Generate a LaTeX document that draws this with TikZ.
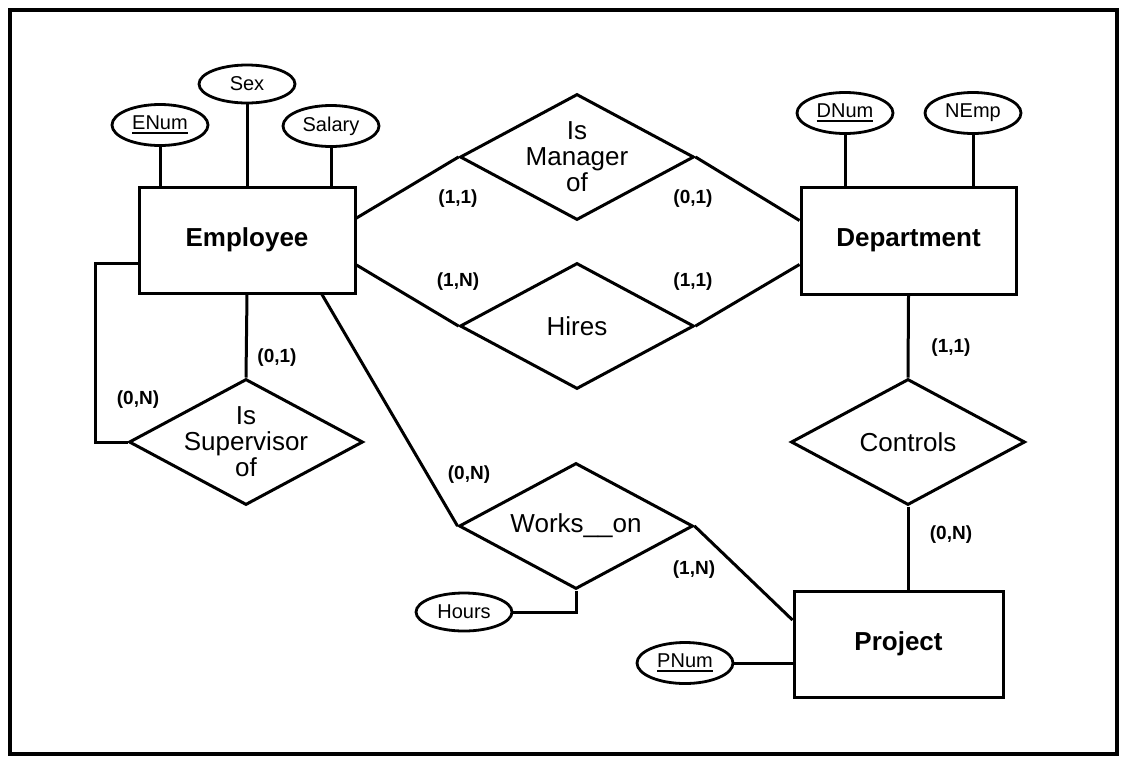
\documentclass[tikz,border=0pt]{standalone}
\usepackage{fontspec}
\setmainfont{Liberation Sans}
\usetikzlibrary{shapes.geometric}
\newcommand\pkey[1]{\setbox0=\hbox{#1}\vtop{\copy0\kern1.8pt\hrule height2pt}}
\begin{document}
\begin{tikzpicture}[x=1pt,y=-1pt,
  ent/.style={draw, line width=3pt, inner sep=0pt, font=\fontsize{26}{27}\selectfont\bfseries},
  attr/.style={draw, ellipse, line width=2.8pt, minimum width=96pt, minimum height=41pt, inner sep=0pt, font=\fontsize{20}{21}\selectfont},
  rel/.style={draw, diamond, line width=3pt, minimum width=234pt, minimum height=126pt, inner sep=0pt},
  reltext/.style={align=center, inner sep=0pt, font=\fontsize{26}{26}\selectfont},
  card/.style={inner sep=0pt, font=\fontsize{19}{20}\selectfont\bfseries},
  conn/.style={line width=3pt}]
\useasboundingbox (0,0) rectangle (1121,756);
\draw[line width=4.5pt] (10,10) rectangle (1117,754);

% entities
\node[ent, minimum width=216pt, minimum height=106pt] (emp) at (247,240) {Employee};
\node[ent, minimum width=215pt, minimum height=107pt] (dep) at (908.5,240.5) {Department};
\node[ent, minimum width=209pt, minimum height=106pt] (prj) at (898.5,644) {Project};

% attributes
\node[attr] (enum) at (160,125) {\pkey{ENum}};
\node[attr, minimum height=38pt] (sex) at (247,84) {Sex};
\node[attr] (sal) at (331,126) {Salary};
\node[attr] (dnum) at (845,113) {\pkey{DNum}};
\node[attr] (nemp) at (973,113) {NEmp};
\node[attr, minimum height=38pt] (hrs) at (464,612) {Hours};
\node[attr] (pnum) at (685,663) {\pkey{PNum}};

% relationships
\node[rel] (man) at (577,157) {};
\node[reltext] at (man) {Is\\Manager\\of};
\node[rel] (hir) at (577,326) {};
\node[reltext] at (hir) {Hires};
\node[rel] (sup) at (246,442) {};
\node[reltext] at (sup) {Is\\Supervisor\\of};
\node[rel] (wrk) at (576,526) {};
\node[reltext] at (wrk) {Works\_\_on};
\node[rel] (ctl) at (908,442) {};
\node[reltext] at (ctl) {Controls};

% attribute links
\draw[conn] (enum.south) -- (enum.south |- emp.north);
\draw[conn] (sex.south) -- (sex.south |- emp.north);
\draw[conn] (sal.south) -- (sal.south |- emp.north);
\draw[conn] (dnum.south) -- (dnum.south |- dep.north);
\draw[conn] (nemp.south) -- (nemp.south |- dep.north);
\draw[conn] (hrs.east) -| (wrk.south);
\draw[conn] (pnum.east) -- (pnum.east -| prj.west);

% relationship links
\draw[conn] ([yshift=22pt]emp.east) -- (man.west);
\draw[conn] (man.east) -- ([yshift=20pt]dep.west);
\draw[conn] ([yshift=-25pt]emp.east) -- (hir.west);
\draw[conn] (hir.east) -- ([yshift=-24pt]dep.west);
\draw[conn] (emp.south) -- (sup.north);
\coordinate (loopx) at (95,442);
\draw[conn] ([yshift=-23pt]emp.west) -| (loopx) -- (sup.west);
\draw[conn] ([xshift=75pt]emp.south) -- (wrk.west);
\draw[conn] (wrk.east) -- ([yshift=24pt]prj.west);
\draw[conn] (dep.south) -- (ctl.north);
\draw[conn] (ctl.south) -- (ctl.south |- prj.north);

% cardinalities
\node[card] (c1) at (458,199) {(1,1)};
\node[card] (c2) at (693,199) {(0,1)};
\node[card] (c3) at (458,282) {(1,N)};
\node[card] (c4) at (693,282) {(1,1)};
\node[card] (c5) at (277,358) {(0,1)};
\node[card] (c6) at (138,400) {(0,N)};
\node[card] (c7) at (469,475) {(0,N)};
\node[card] (c8) at (694,570) {(1,N)};
\node[card] (c9) at (951,348) {(1,1)};
\node[card] (c10) at (951,535) {(0,N)};
\end{tikzpicture}
\end{document}
